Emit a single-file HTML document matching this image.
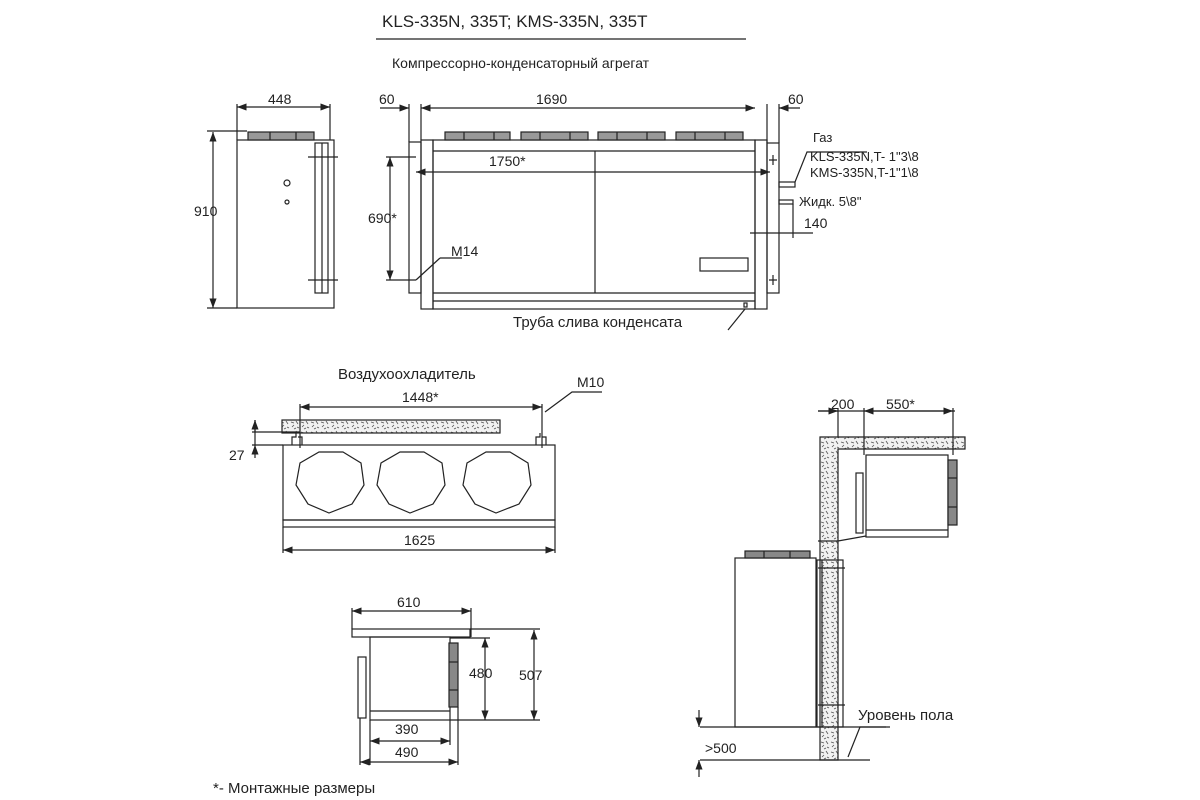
<!DOCTYPE html>
<html><head><meta charset="utf-8"><style>body{margin:0;background:#fff}svg{display:block}</style></head><body>
<svg width="1200" height="800" viewBox="0 0 1200 800" xmlns="http://www.w3.org/2000/svg" font-family="Liberation Sans, sans-serif" fill="none" stroke="#222" stroke-width="1.2">
<defs>
<pattern id="h" width="10" height="10" patternUnits="userSpaceOnUse">
<rect width="10" height="10" fill="#f2f2f2" stroke="none"/>
<path d="M1 2l3 1M6 1l2 3M2 7l2-2M7 7l2 1M4 9l2-1" stroke="#555" stroke-width="0.8"/>
</pattern>
<marker id="a" markerWidth="8" markerHeight="6" refX="8" refY="3" orient="auto-start-reverse"><path d="M0 0L8 3L0 6z" fill="#222" stroke="none"/></marker>
</defs>
<g fill="#222" stroke="none" font-size="14">
<text x="382" y="27" font-size="17">KLS-335N,  335T; KMS-335N,  335T</text>
<text x="392" y="68" font-size="14">Компрессорно-конденсаторный агрегат</text>
<text x="268" y="104">448</text><text x="194" y="216">910</text>
<text x="379" y="104">60</text><text x="536" y="104">1690</text><text x="788" y="104">60</text>
<text x="489" y="166">1750*</text><text x="368" y="223">690*</text><text x="451" y="256">M14</text>
<text x="813" y="142" font-size="13">Газ</text>
<text x="810" y="161" font-size="13">KLS-335N,T- 1"3\8</text>
<text x="810" y="177" font-size="13">KMS-335N,T-1"1\8</text>
<text x="799" y="206" font-size="13">Жидк. 5\8"</text>
<text x="804" y="228">140</text>
<text x="513" y="327" font-size="15">Труба слива конденсата</text>
<text x="338" y="379" font-size="15">Воздухоохладитель</text>
<text x="577" y="387">M10</text><text x="402" y="402">1448*</text>
<text x="229" y="460">27</text><text x="404" y="545">1625</text>
<text x="397" y="607">610</text><text x="469" y="678">480</text><text x="519" y="680">507</text>
<text x="395" y="734">390</text><text x="395" y="757">490</text>
<text x="213" y="793" font-size="15">*- Монтажные размеры</text>
<text x="831" y="409">200</text><text x="886" y="409">550*</text>
<text x="705" y="753">&gt;500</text>
<text x="858" y="720" font-size="15">Уровень пола</text>
</g>
<line x1="376" y1="39" x2="746" y2="39"/>
<!-- side view -->
<rect x="237" y="140" width="97" height="168"/>
<rect x="248" y="132" width="66" height="8" fill="#999"/>
<line x1="270" y1="132" x2="270" y2="140"/><line x1="296" y1="132" x2="296" y2="140"/>
<rect x="315" y="143" width="13" height="150"/><line x1="322" y1="143" x2="322" y2="293"/>
<line x1="308" y1="157" x2="338" y2="157"/><line x1="308" y1="280" x2="338" y2="280"/>
<circle cx="287" cy="183" r="3"/><circle cx="287" cy="202" r="2"/>
<line x1="237" y1="107" x2="330" y2="107" marker-start="url(#a)" marker-end="url(#a)"/>
<line x1="237" y1="104" x2="237" y2="140"/><line x1="330" y1="104" x2="330" y2="140"/>
<line x1="213" y1="132" x2="213" y2="308" marker-start="url(#a)" marker-end="url(#a)"/>
<line x1="207" y1="131" x2="247" y2="131"/><line x1="207" y1="308" x2="237" y2="308"/>
<!-- front view -->
<rect x="409" y="142" width="12" height="151"/><rect x="421" y="140" width="12" height="169"/>
<rect x="433" y="140" width="322" height="169"/>
<line x1="433" y1="151" x2="755" y2="151"/><line x1="433" y1="293" x2="755" y2="293"/><line x1="433" y1="301" x2="755" y2="301"/>
<line x1="595" y1="151" x2="595" y2="293"/>
<rect x="755" y="140" width="12" height="169"/><rect x="767" y="143" width="12" height="150"/>
<g fill="#999"><rect x="445" y="132" width="65" height="8"/><rect x="521" y="132" width="67" height="8"/><rect x="598" y="132" width="67" height="8"/><rect x="676" y="132" width="67" height="8"/></g>
<path d="M464 132v8M494 132v8M540 132v8M570 132v8M617 132v8M647 132v8M695 132v8M725 132v8"/>
<line x1="416" y1="172" x2="770" y2="172" marker-start="url(#a)" marker-end="url(#a)"/>
<line x1="421" y1="108" x2="755" y2="108" marker-start="url(#a)" marker-end="url(#a)"/>
<line x1="380" y1="108" x2="409" y2="108" marker-end="url(#a)"/><line x1="800" y1="108" x2="779" y2="108" marker-end="url(#a)"/>
<line x1="409" y1="104" x2="409" y2="142"/><line x1="421" y1="104" x2="421" y2="140"/>
<line x1="767" y1="104" x2="767" y2="143"/><line x1="779" y1="104" x2="779" y2="143"/>
<line x1="390" y1="157" x2="390" y2="280" marker-start="url(#a)" marker-end="url(#a)"/>
<line x1="386" y1="157" x2="416" y2="157"/><line x1="386" y1="280" x2="416" y2="280"/>
<line x1="416" y1="280" x2="440" y2="258"/><line x1="440" y1="258" x2="462" y2="258"/>
<rect x="700" y="258" width="48" height="13"/>
<rect x="744" y="303" width="3" height="4"/><line x1="728" y1="330" x2="745" y2="309"/>
<path d="M773 155v10M769 160h8M773 275v10M769 280h8"/>
<rect x="779" y="182" width="16" height="5"/><rect x="779" y="200" width="14" height="4"/>
<path d="M795 182l12-30h60"/>
<line x1="750" y1="233" x2="813" y2="233"/><line x1="793" y1="204" x2="793" y2="238"/>
<!-- evaporator -->
<rect x="282" y="420" width="218" height="13" fill="url(#h)"/>
<rect x="283" y="445" width="272" height="75"/><rect x="283" y="520" width="272" height="7"/>
<g id="oct"><polygon points="343,452 361,463 364,485 352,504 329,513 308,504 296,485 300,463 319,452"/></g>
<use href="#oct" x="81"/><use href="#oct" x="167"/>
<path d="M292 445v-8h4v-4M302 445v-8h-4M536 445v-8h4v-4M546 445v-8h-4"/>
<line x1="300" y1="407" x2="542" y2="407" marker-start="url(#a)" marker-end="url(#a)"/>
<line x1="300" y1="404" x2="300" y2="448"/><line x1="542" y1="404" x2="542" y2="448"/>
<path d="M545 412l27-20h30"/>
<line x1="255" y1="420" x2="255" y2="445"/><line x1="252" y1="432" x2="300" y2="432"/><line x1="252" y1="445" x2="283" y2="445"/>
<line x1="255" y1="432" x2="255" y2="420" marker-end="url(#a)"/><line x1="255" y1="445" x2="255" y2="458" marker-start="url(#a)"/>
<line x1="283" y1="550" x2="555" y2="550" marker-start="url(#a)" marker-end="url(#a)"/>
<line x1="283" y1="527" x2="283" y2="553"/><line x1="555" y1="527" x2="555" y2="553"/>
<!-- small view -->
<rect x="352" y="629" width="118" height="8"/>
<rect x="370" y="637" width="80" height="83"/><line x1="370" y1="711" x2="450" y2="711"/>
<rect x="449" y="643" width="9" height="64" fill="#888"/><line x1="449" y1="662" x2="458" y2="662"/><line x1="449" y1="690" x2="458" y2="690"/>
<rect x="358" y="657" width="8" height="61"/>
<line x1="352" y1="611" x2="471" y2="611" marker-start="url(#a)" marker-end="url(#a)"/>
<line x1="352" y1="608" x2="352" y2="629"/><line x1="471" y1="608" x2="471" y2="637"/>
<line x1="485" y1="638" x2="485" y2="720" marker-start="url(#a)" marker-end="url(#a)"/>
<line x1="534" y1="630" x2="534" y2="720" marker-start="url(#a)" marker-end="url(#a)"/>
<line x1="470" y1="629" x2="540" y2="629"/><line x1="450" y1="638" x2="490" y2="638"/><line x1="450" y1="720" x2="540" y2="720"/>
<line x1="370" y1="741" x2="450" y2="741" marker-start="url(#a)" marker-end="url(#a)"/>
<line x1="360" y1="762" x2="458" y2="762" marker-start="url(#a)" marker-end="url(#a)"/>
<line x1="370" y1="720" x2="370" y2="765"/><line x1="450" y1="720" x2="450" y2="745"/><line x1="458" y1="707" x2="458" y2="765"/><line x1="360" y1="718" x2="360" y2="765"/>
<!-- installation view -->
<path d="M820 437h145v12h-127v311h-18z" fill="url(#h)"/>
<rect x="866" y="455" width="82" height="82"/><line x1="866" y1="530" x2="948" y2="530"/>
<rect x="948" y="460" width="9" height="65" fill="#888"/><line x1="948" y1="478" x2="957" y2="478"/><line x1="948" y1="507" x2="957" y2="507"/>
<rect x="856" y="473" width="7" height="60"/>
<path d="M838 541l28-5M818 541h20"/>
<rect x="735" y="558" width="81" height="169"/>
<rect x="745" y="551" width="65" height="7" fill="#888"/>
<path d="M764 551v7M790 551v7"/>
<rect x="817" y="560" width="26" height="167"/><line x1="822" y1="560" x2="822" y2="727"/>
<line x1="818" y1="568" x2="845" y2="568"/><line x1="818" y1="705" x2="845" y2="705"/>
<line x1="700" y1="727" x2="890" y2="727"/><line x1="700" y1="760" x2="870" y2="760"/>
<line x1="699" y1="710" x2="699" y2="727" marker-end="url(#a)"/><line x1="699" y1="777" x2="699" y2="760" marker-end="url(#a)"/>
<path d="M848 757l12-30h26"/>
<line x1="818" y1="411" x2="955" y2="411"/>
<line x1="838" y1="408" x2="838" y2="437"/><line x1="864" y1="408" x2="864" y2="455"/><line x1="953" y1="408" x2="953" y2="455"/>
<line x1="818" y1="411" x2="838" y2="411" marker-end="url(#a)"/><line x1="864" y1="411" x2="953" y2="411" marker-start="url(#a)" marker-end="url(#a)"/>
</svg>
</body></html>
